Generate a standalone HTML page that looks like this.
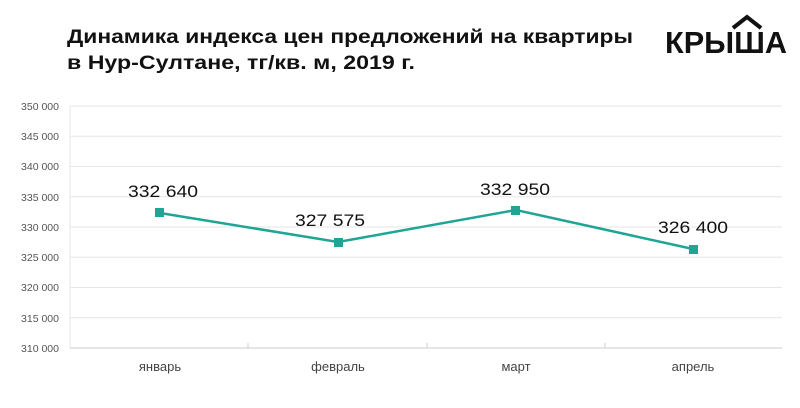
<!DOCTYPE html>
<html><head><meta charset="utf-8"><style>
body{margin:0;width:800px;height:403px;background:#fff;overflow:hidden;font-family:"Liberation Sans",sans-serif}
</style></head><body>
<svg width="800" height="403" xmlns="http://www.w3.org/2000/svg" font-family="Liberation Sans, sans-serif">
<text x="67" y="43" font-size="19.5" font-weight="bold" fill="#111" textLength="566" lengthAdjust="spacingAndGlyphs">Динамика индекса цен предложений на квартиры</text>
<text x="67" y="69" font-size="19.5" font-weight="bold" fill="#111" textLength="348" lengthAdjust="spacingAndGlyphs">в Нур-Султане, тг/кв. м, 2019 г.</text>
<text x="665" y="53" font-size="31" font-weight="bold" fill="#111" textLength="122" lengthAdjust="spacingAndGlyphs">КРЫША</text>
<path d="M733 28 L747 17 L761 28" stroke="#111" stroke-width="4" fill="none"/>
<g stroke="#e6e6e6" stroke-width="1">
<line x1="70" x2="782" y1="106" y2="106"/><line x1="70" x2="782" y1="136.25" y2="136.25"/>
<line x1="70" x2="782" y1="166.5" y2="166.5"/><line x1="70" x2="782" y1="196.75" y2="196.75"/>
<line x1="70" x2="782" y1="227" y2="227"/><line x1="70" x2="782" y1="257.25" y2="257.25"/>
<line x1="70" x2="782" y1="287.5" y2="287.5"/><line x1="70" x2="782" y1="317.75" y2="317.75"/>
<line x1="70" x2="70" y1="106" y2="348"/>
</g>
<line x1="70" x2="782" y1="348" y2="348" stroke="#ccc"/>
<g stroke="#ccc"><line x1="248" x2="248" y1="343" y2="348"/><line x1="427" x2="427" y1="343" y2="348"/><line x1="605" x2="605" y1="343" y2="348"/></g>
<g font-size="10.5" fill="#555" text-anchor="end">
<text x="59" y="110">350 000</text><text x="59" y="140">345 000</text><text x="59" y="170">340 000</text>
<text x="59" y="201">335 000</text><text x="59" y="231">330 000</text><text x="59" y="261">325 000</text>
<text x="59" y="291">320 000</text><text x="59" y="322">315 000</text><text x="59" y="352">310 000</text>
</g>
<g font-size="13" fill="#444" text-anchor="middle">
<text x="160" y="371">январь</text><text x="338" y="371">февраль</text><text x="516" y="371">март</text><text x="693" y="371">апрель</text>
</g>
<polyline points="160,213 338,242 516,210 693,249" fill="none" stroke="#1fa594" stroke-width="2.5"/>
<g fill="#1fa594"><rect x="155" y="208" width="9" height="9"/><rect x="334" y="238" width="9" height="9"/><rect x="511" y="206" width="9" height="9"/><rect x="689" y="245" width="9" height="9"/></g>
<g font-size="17" fill="#111" text-anchor="middle">
<text x="163" y="197" textLength="70" lengthAdjust="spacingAndGlyphs">332 640</text><text x="330" y="226" textLength="70" lengthAdjust="spacingAndGlyphs">327 575</text><text x="515" y="195" textLength="70" lengthAdjust="spacingAndGlyphs">332 950</text><text x="693" y="233" textLength="70" lengthAdjust="spacingAndGlyphs">326 400</text>
</g>
</svg>
</body></html>
